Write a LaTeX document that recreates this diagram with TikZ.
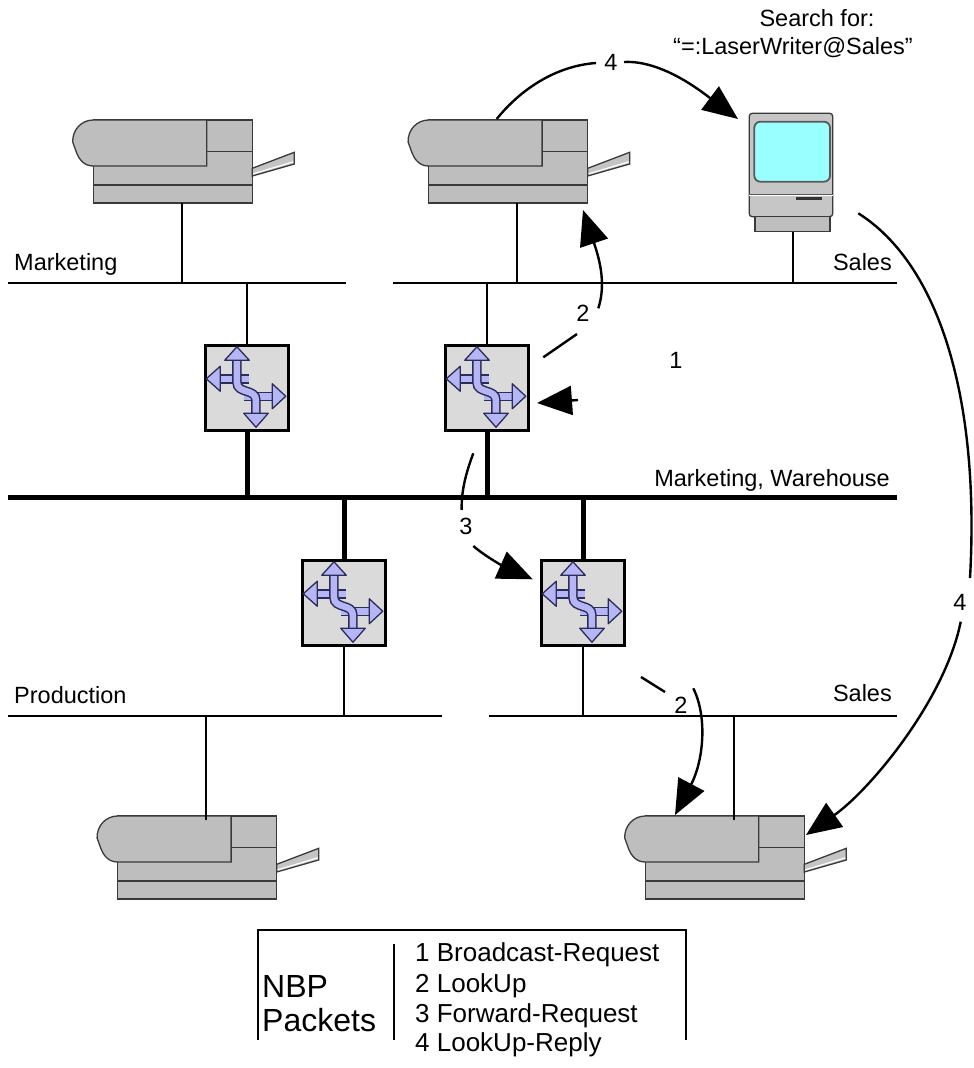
\documentclass[tikz,border=0pt]{standalone}
\usepackage{fontspec}
\setmainfont{Liberation Sans}
\usetikzlibrary{arrows.meta}

\definecolor{devgray}{HTML}{BEBEBE}
\definecolor{devedge}{HTML}{3A3A3A}
\definecolor{traygray}{HTML}{C4C4C4}
\definecolor{casegray}{HTML}{C6C6C6}
\definecolor{rtfill}{HTML}{DADADA}
\definecolor{lav}{HTML}{B6B6F6}
\definecolor{lavedge}{HTML}{2C2C58}
\definecolor{screencyan}{HTML}{99FFFF}

\tikzset{
  net/.style={line width=2pt},
  backbone/.style={line width=5pt},
  device/.style={draw=devedge, line width=1.3pt, fill=devgray},
  router/.style={draw=black, line width=2.5pt, fill=rtfill,
    minimum width=83pt, minimum height=85pt, inner sep=0pt},
  flow/.style={line width=2.4pt},
  flowarrow/.style={flow, -{Triangle[length=35pt,width=29pt]}},
  lbl/.style={font=\fontsize{23.5}{28}\selectfont, inner sep=0pt},
  legendbig/.style={font=\fontsize{32}{36}\selectfont, inner sep=0pt},
  legendsmall/.style={font=\fontsize{26}{30}\selectfont, inner sep=0pt},
  % laser printer, origin at the top left corner of the body
  printer/.pic={
    \path[device] (0,0) rectangle (159,83);
    \draw[devedge, line width=1.3pt] (113.4,31.7) -- (159,31.7) (0,65) -- (159,65);
    \path[device] (0,0) -- (113.4,0) -- (113.4,46) -- (0,46)
      .. controls (-9,46) and (-14,40) .. (-17,32) -- (-20.6,22)
      .. controls (-21,10) and (-12,0) .. (0,0) -- cycle;
    \path[device, fill=traygray] (159,48.3) -- (201,32.3) -- (201,44) -- (159,56) -- cycle;
    \draw[white, line width=1.2pt] (160,53.8) -- (200,41.8);
    \coordinate (-top) at (88.5,4);
    \coordinate (-bottom) at (88.5,83);
  },
  % compact computer, origin at the top left corner of the case
  computer/.pic={
    \draw[draw=devedge, line width=1.3pt, fill=casegray, rounded corners=3pt] (0,0) rectangle (83.4,103.4);
    \draw[draw=black!65, line width=1.8pt, fill=screencyan, rounded corners=6pt] (5,8.4) rectangle (80.7,68.4);
    \draw[black!65, line width=1.2pt] (0,81) -- (83.4,81);
    \draw[white, line width=1pt] (0,82.6) -- (83.4,82.6);
    \fill[black!80] (46.7,84) rectangle (72.4,86.5);
    \draw[device] (5.7,103.4) rectangle (80.7,118.4);
    \coordinate (-foot) at (43.4,118.4);
  },
  % router glyph, origin at the top left corner of the router box
  routericon/.pic={
    \draw[lavedge, line width=9.5pt] (15,34.5) -- (45,34.5) (40,52) -- (69,52);
    \draw[lav, line width=6.5pt] (15,34.5) -- (45,34.5) (40,52) -- (69,52);
    \draw[lavedge, line width=9.5pt] (32.7,14) -- (32.7,38)
      .. controls (32.7,50) and (51.7,44) .. (51.7,56) -- (51.7,71);
    \draw[lav, line width=6.5pt] (32.7,14) -- (32.7,38)
      .. controls (32.7,50) and (51.7,44) .. (51.7,56) -- (51.7,71);
    \filldraw[fill=lav, draw=lavedge, line width=1.3pt, line join=round]
      (32.7,2.5) -- (20.5,16) -- (45,16) -- cycle
      (2,34.5) -- (16,22) -- (16,47) -- cycle
      (81.5,52) -- (68,39.5) -- (68,64.5) -- cycle
      (51.7,83) -- (39.5,69) -- (64,69) -- cycle;
  }
}

\begin{document}
\begin{tikzpicture}[x=1pt,y=-1pt]
\useasboundingbox (0,0) rectangle (974,1068);

% ---- network segments ----
\coordinate (mktL) at (8,283);   \coordinate (mktR) at (346,283);
\coordinate (salTL) at (393,283); \coordinate (salTR) at (897,283);
\coordinate (bbL) at (8,497);    \coordinate (bbR) at (897,497);
\coordinate (proL) at (8,716);   \coordinate (proR) at (442,716);
\coordinate (salBL) at (489,716); \coordinate (salBR) at (897,716);

\draw[net] (mktL) -- (mktR);
\draw[net] (salTL) -- (salTR);
\draw[backbone] (bbL) -- (bbR);
\draw[net] (proL) -- (proR);
\draw[net] (salBL) -- (salBR);

% ---- devices ----
\pic (P1) at (93.3,120) {printer};
\pic (P2) at (428.7,120) {printer};
\pic (P3) at (117.7,816) {printer};
\pic (P4) at (645.3,816) {printer};
\pic (MAC) at (749.3,113.3) {computer};

\node[router] (R1) at (247,388) {};
\node[router] (R2) at (487,388) {};
\node[router] (R3) at (344,603) {};
\node[router] (R4) at (583,603) {};
\foreach \r in {R1,R2,R3,R4} { \pic at (\r.north west) {routericon}; }

% ---- attachments ----
\draw[net] (P1-bottom) -- (P1-bottom |- mktL);
\draw[net] (P2-bottom) -- (P2-bottom |- salTL);
\draw[net] (MAC-foot) -- (MAC-foot |- salTL);
\draw[net] (P3-top) -- (P3-top |- proL);
\draw[net] (P4-top) -- (P4-top |- salBL);
\draw[net] (R1.north) -- (R1.north |- mktL);
\draw[net] (R2.north) -- (R2.north |- salTL);
\draw[backbone] (R1.south) -- (R1.south |- bbL);
\draw[backbone] (R2.south) -- (R2.south |- bbL);
\draw[backbone] (R3.north) -- (R3.north |- bbL);
\draw[backbone] (R4.north) -- (R4.north |- bbL);
\draw[net] (R3.south) -- (R3.south |- proL);
\draw[net] (R4.south) -- (R4.south |- salBL);

% ---- network names ----
\node[lbl, anchor=base west] (nMkt) at (14,270) {Marketing};
\node[lbl, anchor=base east] (nSalT) at (892,270) {Sales};
\node[lbl, anchor=base east] (nBb) at (890,486) {Marketing, Warehouse};
\node[lbl, anchor=base west] (nPro) at (14,703) {Production};
\node[lbl, anchor=base east] (nSalB) at (892,701) {Sales};

\node[lbl, anchor=base] (q1) at (817,26) {Search for:};
\node[lbl, anchor=base west] (q2) at (673,54) {“=:LaserWriter@Sales”};

% ---- packet flow ----
\node[lbl] (s1) at (676,360) {1};
\node[lbl] (s2a) at (583,313) {2};
\node[lbl] (s3) at (466,526) {3};
\node[lbl] (s2b) at (681,705) {2};
\node[lbl] (s4a) at (611,62) {4};
\node[lbl] (s4b) at (960,602) {4};

% 1: broadcast request into the router
\coordinate (c1a) at (578,400); \coordinate (c1b) at (537,403);
\draw[flowarrow] (c1a) -- (c1b);

% 2: lookup onto the upper Sales net
\coordinate (b1) at (543.3,357.3); \coordinate (b2) at (577,334);
\coordinate (b3) at (598.3,308.3); \coordinate (b4) at (583,210);
\draw[flow] (b1) -- (b2);
\draw[flowarrow] (b3) .. controls (607,282) and (598,255) .. (b4);

% 3: forward request across the backbone
\coordinate (d1) at (473.3,453.3); \coordinate (d2) at (461.7,510);
\coordinate (d3) at (473.3,546); \coordinate (d4) at (532.7,579.3);
\draw[flow] (d1) .. controls (467,470) and (461,490) .. (d2);
\draw[flowarrow] (d3) .. controls (486,557) and (505,567) .. (d4);

% 2: lookup onto the lower Sales net
\coordinate (e1) at (641,677); \coordinate (e2) at (665,692);
\coordinate (e3) at (693.3,688.3); \coordinate (e4) at (675,815);
\draw[flow] (e1) -- (e2);
\draw[flowarrow] (e3) .. controls (708,718) and (703,762) .. (e4);

% 4: lookup replies back to the workstation
\coordinate (a1) at (496.7,119); \coordinate (a2) at (596,63);
\coordinate (a3) at (624,62); \coordinate (a4) at (738,119);
\draw[flow] (a1) .. controls (520,90) and (555,66) .. (a2);
\draw[flowarrow] (a3) .. controls (662,60) and (702,92) .. (a4);

\coordinate (f1) at (858.3,213.3); \coordinate (f2) at (970,578);
\coordinate (f3) at (960.7,621.7); \coordinate (f4) at (806,835);
\draw[flow] (f1) .. controls (940,265) and (980,400) .. (f2);
\draw[flowarrow] (f3) .. controls (945,700) and (870,790) .. (f4);

% ---- legend ----
\coordinate (lgTL) at (258,930); \coordinate (lgTR) at (686,930);
\coordinate (lgBL) at (258,1040); \coordinate (lgBR) at (686,1040);
\coordinate (lgDT) at (394,944); \coordinate (lgDB) at (394,1040);
\draw[line width=1.2pt] (lgBL) -- (lgTL) -- (lgTR) -- (lgBR);
\draw[line width=1.2pt] (lgDT) -- (lgDB);
\node[legendbig, anchor=base west] (kNBP) at (262,997) {NBP};
\node[legendbig, anchor=base west] (kPkt) at (262,1031) {Packets};
\node[legendsmall, anchor=base west] (k1) at (415,961) {1 Broadcast-Request};
\node[legendsmall, anchor=base west] (k2) at (415,992) {2 LookUp};
\node[legendsmall, anchor=base west] (k3) at (415,1022) {3 Forward-Request};
\node[legendsmall, anchor=base west] (k4) at (415,1051) {4 LookUp-Reply};
\end{tikzpicture}
\end{document}
